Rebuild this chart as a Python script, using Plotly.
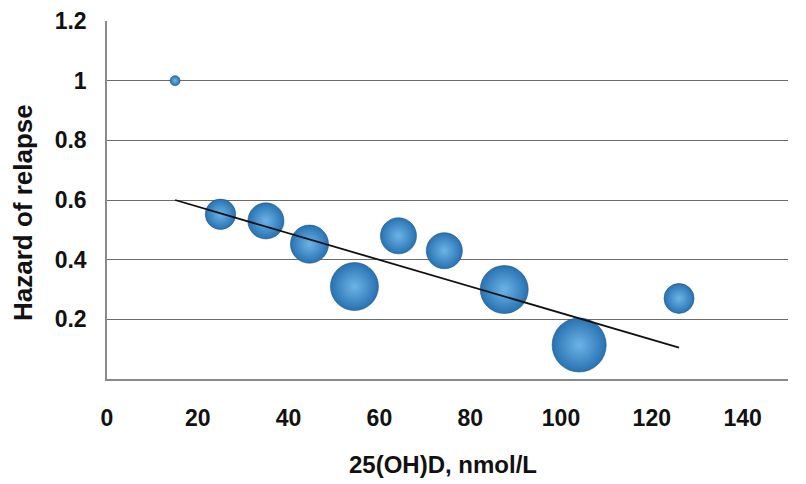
import plotly.graph_objects as go

# Data
vitd = [15, 25, 35, 44.6, 54.5, 64.2, 74.3, 87.5, 104, 126]
hazard = [1.0, 0.552, 0.53, 0.452, 0.31, 0.48, 0.43, 0.30, 0.114, 0.27]
bubble_weight = [4, 37, 52, 58, 92, 52, 52, 92, 117, 36]

trend_x = [15, 126]
trend_y = [0.60, 0.105]

x_ticks = [0, 20, 40, 60, 80, 100, 120, 140]
y_ticks = [0.2, 0.4, 0.6, 0.8, 1.0, 1.2]
y_ticktext = ["0.2", "0.4", "0.6", "0.8", "1", "1.2"]

x_title = "25(OH)D, nmol/L"
y_title = "Hazard of relapse"

FONT = "Liberation Sans, Arial, sans-serif"

fig = go.Figure()

fig.add_trace(go.Scatter(
    x=vitd, y=hazard, mode="markers",
    marker=dict(
        size=bubble_weight, sizemode="area", sizeref=0.08,
        color="#2872b2",
        gradient=dict(type="radial", color="#6cb4e6"),
        line=dict(width=0.6, color="#1d5288"),
        opacity=1,
    ),
    hoverinfo="x+y", showlegend=False,
))

fig.add_trace(go.Scatter(
    x=trend_x, y=trend_y, mode="lines",
    line=dict(color="#111111", width=1.8),
    hoverinfo="skip", showlegend=False,
))

fig.update_layout(
    width=806, height=484,
    margin=dict(l=107, r=18, t=21, b=105),
    paper_bgcolor="white", plot_bgcolor="white",
    font=dict(family=FONT, size=23, color="#111111"),
    xaxis=dict(
        range=[0, 150], tickvals=x_ticks,
        showgrid=False, zeroline=False, automargin=False,
        showline=True, linecolor="#8a8a8a", linewidth=1.5,
        ticks="", ticklabelstandoff=18,
        tickfont=dict(family=FONT, size=23, color="#111111", weight="bold"),
    ),
    yaxis=dict(
        range=[0, 1.2], tickvals=y_ticks, ticktext=y_ticktext,
        showgrid=True, gridcolor="#6e6a66", gridwidth=1,
        zeroline=False, automargin=False,
        showline=True, linecolor="#8a8a8a", linewidth=1.5,
        ticks="", ticklabelstandoff=14,
        tickfont=dict(family=FONT, size=23, color="#111111", weight="bold"),
    ),
    annotations=[
        dict(text="<b>" + x_title + "</b>", xref="paper", yref="paper",
             x=0.4934, y=-0.2402, xanchor="center", yanchor="middle",
             showarrow=False, font=dict(family=FONT, size=24, color="#111111")),
        dict(text="<b>" + y_title + "</b>", xref="paper", yref="paper",
             x=-0.1233, y=0.4637, xanchor="center", yanchor="middle",
             textangle=-90, showarrow=False,
             font=dict(family=FONT, size=26, color="#111111")),
    ],
)

fig.write_html(
    "out.html",
    config={"displayModeBar": False},
    post_script="document.body.style.margin='0';document.body.style.overflow='hidden';",
)
